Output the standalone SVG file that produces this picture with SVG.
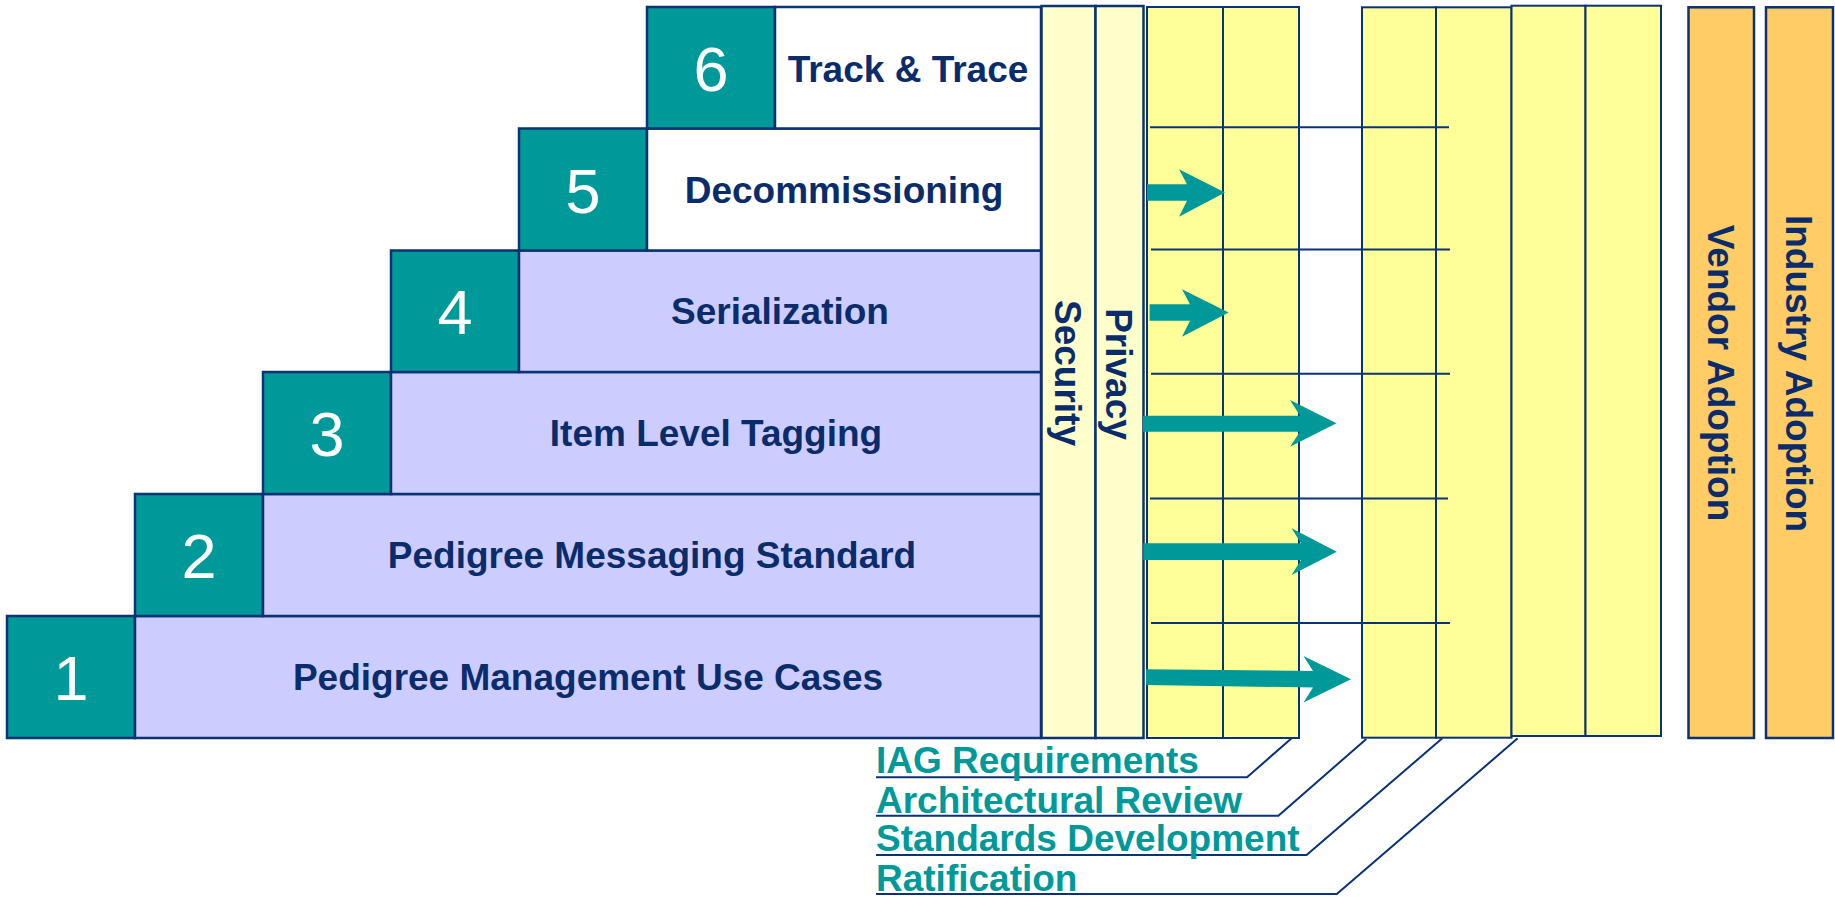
<svg xmlns="http://www.w3.org/2000/svg" width="1835" height="897" viewBox="0 0 1835 897">
  <style>
    .num { fill: #009999; stroke: #0b3272; stroke-width: 2.5; }
    .lav { fill: #ccccff; stroke: #0b3272; stroke-width: 2.5; }
    .wht { fill: #ffffff; stroke: #0b3272; stroke-width: 2.5; }
    .pale { fill: #ffffcc; stroke: #0b3272; stroke-width: 2.5; }
    .yel { fill: #ffff99; stroke: #0b3272; stroke-width: 2; }
    .org { fill: #ffcc66; stroke: #0b3272; stroke-width: 2.5; }
    .grid { stroke: #0b3272; stroke-width: 2; fill: none; }
    .lead { stroke: #0b3272; stroke-width: 2; fill: none; }
    .arrow { fill: #009999; }
    .digit { font-family: "Liberation Sans", Arial, sans-serif; font-size: 63px; fill: #ffffff; text-anchor: middle; }
    .lbl { font-family: "Liberation Sans", Arial, sans-serif; font-weight: bold; font-size: 37px; fill: #0a2c6a; text-anchor: middle; }
    .vlbl { font-family: "Liberation Sans", Arial, sans-serif; font-weight: bold; font-size: 37px; fill: #0a2c6a; text-anchor: middle; }
    .phase { font-family: "Liberation Sans", Arial, sans-serif; font-weight: bold; font-size: 37px; fill: #009999; }
  </style>

  <!-- staircase of workstreams -->
  <g id="step-1">
    <rect class="num" x="7" y="616" width="128" height="122"/>
    <rect class="lav" x="135" y="616" width="906" height="122"/>
    <text class="digit" x="71" y="700">1</text>
    <text class="lbl" x="588" y="690">Pedigree Management Use Cases</text>
  </g>
  <g id="step-2">
    <rect class="num" x="135" y="494" width="128" height="122"/>
    <rect class="lav" x="263" y="494" width="778" height="122"/>
    <text class="digit" x="199" y="578">2</text>
    <text class="lbl" x="652" y="568">Pedigree Messaging Standard</text>
  </g>
  <g id="step-3">
    <rect class="num" x="263" y="372" width="128" height="122"/>
    <rect class="lav" x="391" y="372" width="650" height="122"/>
    <text class="digit" x="327" y="456">3</text>
    <text class="lbl" x="716" y="446">Item Level Tagging</text>
  </g>
  <g id="step-4">
    <rect class="num" x="391" y="250.5" width="128" height="121.5"/>
    <rect class="lav" x="519" y="250.5" width="522" height="121.5"/>
    <text class="digit" x="455" y="334">4</text>
    <text class="lbl" x="780" y="324">Serialization</text>
  </g>
  <g id="step-5">
    <rect class="num" x="519" y="128.5" width="128" height="122"/>
    <rect class="wht" x="647" y="128.5" width="394" height="122"/>
    <text class="digit" x="583" y="212.5">5</text>
    <text class="lbl" x="844" y="202.5">Decommissioning</text>
  </g>
  <g id="step-6">
    <rect class="num" x="647" y="7" width="128" height="121.5"/>
    <rect class="wht" x="775" y="7" width="266" height="121.5"/>
    <text class="digit" x="711" y="91">6</text>
    <text class="lbl" x="908" y="81.5">Track &amp; Trace</text>
  </g>

  <!-- cross-cutting concerns -->
  <g id="security">
    <rect class="pale" x="1041.5" y="6" width="54" height="732"/>
    <text class="vlbl" transform="translate(1055 373) rotate(90)">Security</text>
  </g>
  <g id="privacy">
    <rect class="pale" x="1095.5" y="6" width="48" height="732"/>
    <text class="vlbl" transform="translate(1106 374) rotate(90)">Privacy</text>
  </g>

  <!-- process columns -->
  <g id="iag-columns">
    <rect class="yel" x="1147" y="7" width="76" height="731"/>
    <rect class="yel" x="1223" y="7" width="76" height="731"/>
  </g>
  <g id="standards-columns">
    <rect class="yel" x="1362" y="7.3" width="74" height="730.4"/>
    <rect class="yel" x="1436" y="7.3" width="75.5" height="730.4"/>
    <rect class="yel" x="1511.5" y="5.7" width="74" height="730.3"/>
    <rect class="yel" x="1585.5" y="5.7" width="75.5" height="730.3"/>
  </g>

  <!-- adoption -->
  <g id="vendor-adoption">
    <rect class="org" x="1688.5" y="7.3" width="65.5" height="730.7"/>
    <text class="vlbl" transform="translate(1708 373) rotate(90)">Vendor Adoption</text>
  </g>
  <g id="industry-adoption">
    <rect class="org" x="1766" y="7.3" width="67" height="730.7"/>
    <text class="vlbl" transform="translate(1786 373.5) rotate(90)">Industry Adoption</text>
  </g>

  <!-- row dividers across the process area -->
  <g id="row-lines">
    <line class="grid" x1="1150" y1="127.3" x2="1449" y2="127.3"/>
    <line class="grid" x1="1151" y1="249.5" x2="1450" y2="249.5"/>
    <line class="grid" x1="1151" y1="373.8" x2="1450" y2="373.8"/>
    <line class="grid" x1="1150" y1="498.6" x2="1448" y2="498.6"/>
    <line class="grid" x1="1151" y1="623" x2="1450" y2="623"/>
  </g>

  <!-- progress arrows -->
  <g id="connectors">
    <polygon class="arrow" points="1147,184.3 1187,184.3 1179,169.3 1225,192.6 1179,216.7 1187,200.7 1147,200.7"/>
    <polygon class="arrow" points="1149.6,304.3 1190,304.3 1182,289.3 1228.7,312.5 1182,336.7 1190,320.7 1149.6,320.7"/>
    <polygon class="arrow" points="1143,415.7 1300,415.7 1290,400 1336.5,423.3 1290,446.7 1300,431.7 1143,431.7"/>
    <polygon class="arrow" points="1143.3,543.3 1301,543.3 1291.6,528.3 1336.8,551.7 1291.6,575 1301,560 1143.3,560"/>
    <polygon class="arrow" points="1146,669.3 1313,671 1303.5,656 1351,679.3 1303.5,702.5 1313,687.5 1146,685"/>

    <polyline class="lead" points="876,777.3 1247,777.3 1291.6,738.3"/>
    <polyline class="lead" points="876,815.7 1278.4,815.7 1366.3,739"/>
    <polyline class="lead" points="876,855 1306.6,855 1442.3,738.3"/>
    <polyline class="lead" points="876,894 1336.8,894 1517.7,738.3"/>
  </g>

  <!-- process phase labels -->
  <g id="phase-labels">
    <text class="phase" x="876" y="773.3">IAG Requirements</text>
    <text class="phase" x="876" y="812.5">Architectural Review</text>
    <text class="phase" x="876" y="850.8">Standards Development</text>
    <text class="phase" x="876" y="890.5">Ratification</text>
  </g>
</svg>
